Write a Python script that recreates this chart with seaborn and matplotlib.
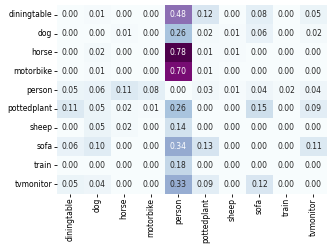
import numpy as np
import pandas as pd
import seaborn as sns
import matplotlib
matplotlib.use("Agg")
import matplotlib.pyplot as plt

labels = ["diningtable", "dog", "horse", "motorbike", "person",
          "pottedplant", "sheep", "sofa", "train", "tvmonitor"]

row_diningtable = [0.00, 0.01, 0.00, 0.00, 0.48, 0.12, 0.00, 0.08, 0.00, 0.05]
row_dog         = [0.00, 0.00, 0.01, 0.00, 0.26, 0.02, 0.01, 0.06, 0.00, 0.02]
row_horse       = [0.00, 0.02, 0.00, 0.00, 0.78, 0.01, 0.01, 0.00, 0.00, 0.00]
row_motorbike   = [0.00, 0.01, 0.00, 0.00, 0.70, 0.01, 0.00, 0.00, 0.00, 0.00]
row_person      = [0.05, 0.06, 0.11, 0.08, 0.00, 0.03, 0.01, 0.04, 0.02, 0.04]
row_pottedplant = [0.11, 0.05, 0.02, 0.01, 0.26, 0.00, 0.00, 0.15, 0.00, 0.09]
row_sheep       = [0.00, 0.05, 0.02, 0.00, 0.14, 0.00, 0.00, 0.00, 0.00, 0.00]
row_sofa        = [0.06, 0.10, 0.00, 0.00, 0.34, 0.13, 0.00, 0.00, 0.00, 0.11]
row_train       = [0.00, 0.00, 0.00, 0.00, 0.18, 0.00, 0.00, 0.00, 0.00, 0.00]
row_tvmonitor   = [0.05, 0.04, 0.00, 0.00, 0.33, 0.09, 0.00, 0.12, 0.00, 0.00]

data = pd.DataFrame([row_diningtable, row_dog, row_horse, row_motorbike, row_person,
                     row_pottedplant, row_sheep, row_sofa, row_train, row_tvmonitor],
                    index=labels, columns=labels)

fig = plt.figure(figsize=(3.33, 2.46), dpi=100)
ax = fig.add_axes([0.170, 0.213, 0.812, 0.765])
sns.heatmap(data, ax=ax, cmap="BuPu", annot=True, fmt=".2f", cbar=False,
            annot_kws={"fontsize": 5.5}, vmin=0, vmax=0.78)
ax.tick_params(axis="both", labelsize=5.5, length=2, width=0.6, pad=1)
plt.setp(ax.get_xticklabels(), rotation=90)
plt.setp(ax.get_yticklabels(), rotation=0)
fig.savefig("out.png", dpi=100)
